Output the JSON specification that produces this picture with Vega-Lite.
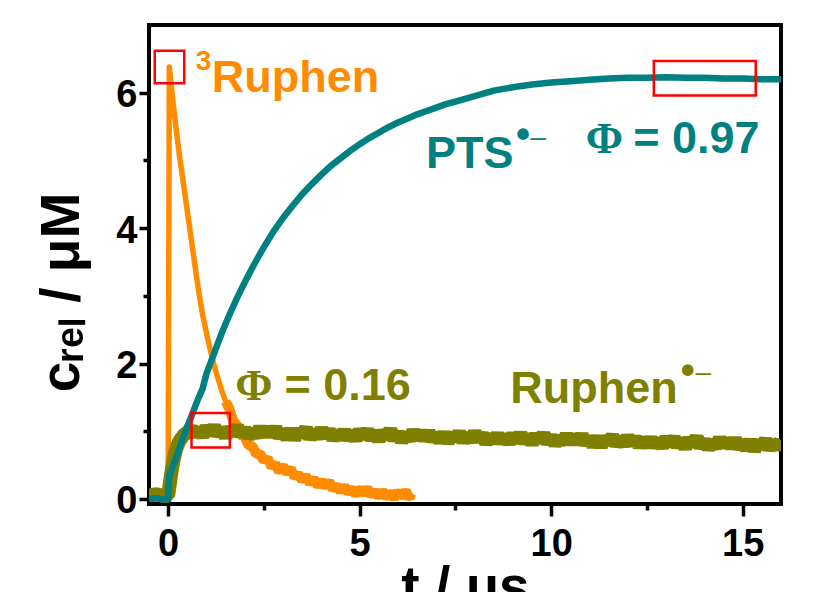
{
  "$schema": "https://vega.github.io/schema/vega-lite/v6.json",
  "width": 632,
  "height": 479,
  "autosize": {"type": "none"},
  "padding": {"left": 149, "top": 25, "right": 39, "bottom": 88},
  "background": "white",
  "config": {
    "view": {"stroke": "black", "strokeWidth": 4},
    "axis": {
      "domain": false, "grid": false, "tickColor": "black", "tickWidth": 3.5,
      "labelFont": "Liberation Sans", "labelFontWeight": "bold", "labelFontSize": 38, "labelColor": "black",
      "titleFont": "Liberation Sans", "titleFontWeight": "bold", "titleFontSize": 55, "titleColor": "black"
    }
  },
  "datasets": {
    "curves": [
      {"series":"3Ruphen","t":-0.5,"c":0.10},{"series":"3Ruphen","t":-0.4,"c":0.12},{"series":"3Ruphen","t":-0.3,"c":0.08},{"series":"3Ruphen","t":-0.2,"c":0.11},{"series":"3Ruphen","t":-0.1,"c":0.09},{"series":"3Ruphen","t":0.0,"c":0.10},
      {"series":"3Ruphen","t":0.03,"c":6.38},{"series":"3Ruphen","t":0.1,"c":6.0},{"series":"3Ruphen","t":0.2,"c":5.5},{"series":"3Ruphen","t":0.3,"c":5.05},{"series":"3Ruphen","t":0.4,"c":4.65},{"series":"3Ruphen","t":0.5,"c":4.25},{"series":"3Ruphen","t":0.6,"c":3.85},{"series":"3Ruphen","t":0.7,"c":3.45},{"series":"3Ruphen","t":0.8,"c":3.05},{"series":"3Ruphen","t":0.9,"c":2.72},{"series":"3Ruphen","t":1.0,"c":2.45},{"series":"3Ruphen","t":1.1,"c":2.2},{"series":"3Ruphen","t":1.2,"c":1.97},{"series":"3Ruphen","t":1.3,"c":1.78},{"series":"3Ruphen","t":1.4,"c":1.6},{"series":"3Ruphen","t":1.5,"c":1.44},
      {"series":"3Ruphen","t":1.6,"c":1.33},{"series":"3Ruphen","t":1.7,"c":1.15},{"series":"3Ruphen","t":1.8,"c":1.09},{"series":"3Ruphen","t":1.9,"c":0.94},{"series":"3Ruphen","t":2.0,"c":0.92},{"series":"3Ruphen","t":2.1,"c":0.79},{"series":"3Ruphen","t":2.2,"c":0.78},{"series":"3Ruphen","t":2.3,"c":0.66},{"series":"3Ruphen","t":2.4,"c":0.67},{"series":"3Ruphen","t":2.5,"c":0.56},{"series":"3Ruphen","t":2.6,"c":0.60},{"series":"3Ruphen","t":2.7,"c":0.47},{"series":"3Ruphen","t":2.8,"c":0.52},{"series":"3Ruphen","t":2.9,"c":0.40},{"series":"3Ruphen","t":3.0,"c":0.49},{"series":"3Ruphen","t":3.1,"c":0.38},{"series":"3Ruphen","t":3.2,"c":0.45},{"series":"3Ruphen","t":3.3,"c":0.32},{"series":"3Ruphen","t":3.4,"c":0.37},{"series":"3Ruphen","t":3.5,"c":0.27},{"series":"3Ruphen","t":3.6,"c":0.34},{"series":"3Ruphen","t":3.7,"c":0.23},{"series":"3Ruphen","t":3.8,"c":0.30},{"series":"3Ruphen","t":3.9,"c":0.19},{"series":"3Ruphen","t":4.0,"c":0.27},{"series":"3Ruphen","t":4.1,"c":0.18},{"series":"3Ruphen","t":4.2,"c":0.26},{"series":"3Ruphen","t":4.3,"c":0.14},{"series":"3Ruphen","t":4.4,"c":0.20},{"series":"3Ruphen","t":4.5,"c":0.11},{"series":"3Ruphen","t":4.6,"c":0.19},{"series":"3Ruphen","t":4.7,"c":0.09},{"series":"3Ruphen","t":4.8,"c":0.16},{"series":"3Ruphen","t":4.9,"c":0.06},{"series":"3Ruphen","t":5.0,"c":0.16},{"series":"3Ruphen","t":5.1,"c":0.07},{"series":"3Ruphen","t":5.2,"c":0.16},{"series":"3Ruphen","t":5.3,"c":0.05},{"series":"3Ruphen","t":5.4,"c":0.12},{"series":"3Ruphen","t":5.5,"c":0.03},{"series":"3Ruphen","t":5.6,"c":0.12},{"series":"3Ruphen","t":5.7,"c":0.02},{"series":"3Ruphen","t":5.8,"c":0.10},{"series":"3Ruphen","t":5.9,"c":0.01},{"series":"3Ruphen","t":6.0,"c":0.11},{"series":"3Ruphen","t":6.1,"c":0.03},{"series":"3Ruphen","t":6.2,"c":0.12},{"series":"3Ruphen","t":6.3,"c":0.01},{"series":"3Ruphen","t":6.35,"c":0.08},

      {"series":"Ruphen","t":-0.5,"c":0.05},{"series":"Ruphen","t":-0.3,"c":0.07},{"series":"Ruphen","t":-0.1,"c":0.04},{"series":"Ruphen","t":0.0,"c":0.05},{"series":"Ruphen","t":0.05,"c":0.25},{"series":"Ruphen","t":0.1,"c":0.45},{"series":"Ruphen","t":0.15,"c":0.6},{"series":"Ruphen","t":0.2,"c":0.72},{"series":"Ruphen","t":0.25,"c":0.8},{"series":"Ruphen","t":0.3,"c":0.86},{"series":"Ruphen","t":0.4,"c":0.94},{"series":"Ruphen","t":0.5,"c":0.98},
      {"series":"Ruphen","t":0.6,"c":1.05},{"series":"Ruphen","t":0.7,"c":0.94},{"series":"Ruphen","t":0.8,"c":1.03},{"series":"Ruphen","t":0.9,"c":0.93},{"series":"Ruphen","t":1.0,"c":1.06},{"series":"Ruphen","t":1.1,"c":0.96},{"series":"Ruphen","t":1.2,"c":1.07},{"series":"Ruphen","t":1.3,"c":0.95},{"series":"Ruphen","t":1.4,"c":1.03},{"series":"Ruphen","t":1.5,"c":0.92},{"series":"Ruphen","t":1.6,"c":1.04},{"series":"Ruphen","t":1.7,"c":0.96},{"series":"Ruphen","t":1.8,"c":1.07},{"series":"Ruphen","t":1.9,"c":0.94},{"series":"Ruphen","t":2.0,"c":1.03},{"series":"Ruphen","t":2.1,"c":0.92},{"series":"Ruphen","t":2.2,"c":1.00},{"series":"Ruphen","t":2.3,"c":0.93},{"series":"Ruphen","t":2.4,"c":1.05},{"series":"Ruphen","t":2.5,"c":0.94},
      {"series":"Ruphen","t":2.6,"c":1.04},{"series":"Ruphen","t":2.7,"c":0.94},{"series":"Ruphen","t":2.8,"c":1.05},{"series":"Ruphen","t":2.9,"c":0.92},{"series":"Ruphen","t":3.0,"c":1.00},{"series":"Ruphen","t":3.1,"c":0.90},{"series":"Ruphen","t":3.2,"c":1.02},{"series":"Ruphen","t":3.3,"c":0.89},{"series":"Ruphen","t":3.4,"c":1.01},{"series":"Ruphen","t":3.5,"c":0.94},{"series":"Ruphen","t":3.6,"c":1.04},{"series":"Ruphen","t":3.7,"c":0.90},{"series":"Ruphen","t":3.8,"c":1.00},{"series":"Ruphen","t":3.9,"c":0.91},{"series":"Ruphen","t":4.0,"c":1.03},{"series":"Ruphen","t":4.1,"c":0.92},{"series":"Ruphen","t":4.2,"c":1.01},{"series":"Ruphen","t":4.3,"c":0.89},{"series":"Ruphen","t":4.4,"c":0.98},{"series":"Ruphen","t":4.5,"c":0.90},
      {"series":"Ruphen","t":4.6,"c":1.00},{"series":"Ruphen","t":4.7,"c":0.89},{"series":"Ruphen","t":4.8,"c":0.98},{"series":"Ruphen","t":4.9,"c":0.88},{"series":"Ruphen","t":5.0,"c":1.01},{"series":"Ruphen","t":5.1,"c":0.91},{"series":"Ruphen","t":5.2,"c":1.01},{"series":"Ruphen","t":5.3,"c":0.89},{"series":"Ruphen","t":5.4,"c":0.98},{"series":"Ruphen","t":5.5,"c":0.87},{"series":"Ruphen","t":5.6,"c":0.99},{"series":"Ruphen","t":5.7,"c":0.91},{"series":"Ruphen","t":5.8,"c":1.02},{"series":"Ruphen","t":5.9,"c":0.88},{"series":"Ruphen","t":6.0,"c":0.97},{"series":"Ruphen","t":6.1,"c":0.86},{"series":"Ruphen","t":6.2,"c":0.95},{"series":"Ruphen","t":6.3,"c":0.88},{"series":"Ruphen","t":6.4,"c":1.00},{"series":"Ruphen","t":6.5,"c":0.89},
      {"series":"Ruphen","t":6.6,"c":0.99},{"series":"Ruphen","t":6.7,"c":0.88},{"series":"Ruphen","t":6.8,"c":0.99},{"series":"Ruphen","t":6.9,"c":0.87},{"series":"Ruphen","t":7.0,"c":0.95},{"series":"Ruphen","t":7.1,"c":0.85},{"series":"Ruphen","t":7.2,"c":0.97},{"series":"Ruphen","t":7.3,"c":0.84},{"series":"Ruphen","t":7.4,"c":0.95},{"series":"Ruphen","t":7.5,"c":0.88},{"series":"Ruphen","t":7.6,"c":0.98},{"series":"Ruphen","t":7.7,"c":0.85},{"series":"Ruphen","t":7.8,"c":0.95},{"series":"Ruphen","t":7.9,"c":0.86},{"series":"Ruphen","t":8.0,"c":0.98},{"series":"Ruphen","t":8.1,"c":0.87},{"series":"Ruphen","t":8.2,"c":0.95},{"series":"Ruphen","t":8.3,"c":0.83},{"series":"Ruphen","t":8.4,"c":0.93},{"series":"Ruphen","t":8.5,"c":0.85},
      {"series":"Ruphen","t":8.6,"c":0.95},{"series":"Ruphen","t":8.7,"c":0.84},{"series":"Ruphen","t":8.8,"c":0.93},{"series":"Ruphen","t":8.9,"c":0.83},{"series":"Ruphen","t":9.0,"c":0.95},{"series":"Ruphen","t":9.1,"c":0.85},{"series":"Ruphen","t":9.2,"c":0.96},{"series":"Ruphen","t":9.3,"c":0.84},{"series":"Ruphen","t":9.4,"c":0.93},{"series":"Ruphen","t":9.5,"c":0.82},{"series":"Ruphen","t":9.6,"c":0.94},{"series":"Ruphen","t":9.7,"c":0.85},{"series":"Ruphen","t":9.8,"c":0.96},{"series":"Ruphen","t":9.9,"c":0.83},{"series":"Ruphen","t":10.0,"c":0.92},{"series":"Ruphen","t":10.1,"c":0.81},{"series":"Ruphen","t":10.2,"c":0.90},{"series":"Ruphen","t":10.3,"c":0.83},{"series":"Ruphen","t":10.4,"c":0.94},{"series":"Ruphen","t":10.5,"c":0.83},
      {"series":"Ruphen","t":10.6,"c":0.93},{"series":"Ruphen","t":10.7,"c":0.83},{"series":"Ruphen","t":10.8,"c":0.94},{"series":"Ruphen","t":10.9,"c":0.82},{"series":"Ruphen","t":11.0,"c":0.90},{"series":"Ruphen","t":11.1,"c":0.79},{"series":"Ruphen","t":11.2,"c":0.91},{"series":"Ruphen","t":11.3,"c":0.78},{"series":"Ruphen","t":11.4,"c":0.90},{"series":"Ruphen","t":11.5,"c":0.83},{"series":"Ruphen","t":11.6,"c":0.93},{"series":"Ruphen","t":11.7,"c":0.80},{"series":"Ruphen","t":11.8,"c":0.89},{"series":"Ruphen","t":11.9,"c":0.80},{"series":"Ruphen","t":12.0,"c":0.92},{"series":"Ruphen","t":12.1,"c":0.81},{"series":"Ruphen","t":12.2,"c":0.90},{"series":"Ruphen","t":12.3,"c":0.78},{"series":"Ruphen","t":12.4,"c":0.88},{"series":"Ruphen","t":12.5,"c":0.79},
      {"series":"Ruphen","t":12.6,"c":0.89},{"series":"Ruphen","t":12.7,"c":0.78},{"series":"Ruphen","t":12.8,"c":0.87},{"series":"Ruphen","t":12.9,"c":0.77},{"series":"Ruphen","t":13.0,"c":0.90},{"series":"Ruphen","t":13.1,"c":0.80},{"series":"Ruphen","t":13.2,"c":0.90},{"series":"Ruphen","t":13.3,"c":0.78},{"series":"Ruphen","t":13.4,"c":0.87},{"series":"Ruphen","t":13.5,"c":0.76},{"series":"Ruphen","t":13.6,"c":0.88},{"series":"Ruphen","t":13.7,"c":0.80},{"series":"Ruphen","t":13.8,"c":0.91},{"series":"Ruphen","t":13.9,"c":0.77},{"series":"Ruphen","t":14.0,"c":0.86},{"series":"Ruphen","t":14.1,"c":0.75},{"series":"Ruphen","t":14.2,"c":0.84},{"series":"Ruphen","t":14.3,"c":0.77},{"series":"Ruphen","t":14.4,"c":0.89},{"series":"Ruphen","t":14.5,"c":0.78},
      {"series":"Ruphen","t":14.6,"c":0.87},{"series":"Ruphen","t":14.7,"c":0.77},{"series":"Ruphen","t":14.8,"c":0.88},{"series":"Ruphen","t":14.9,"c":0.76},{"series":"Ruphen","t":15.0,"c":0.84},{"series":"Ruphen","t":15.1,"c":0.74},{"series":"Ruphen","t":15.2,"c":0.86},{"series":"Ruphen","t":15.3,"c":0.72},{"series":"Ruphen","t":15.4,"c":0.84},{"series":"Ruphen","t":15.5,"c":0.77},{"series":"Ruphen","t":15.6,"c":0.87},{"series":"Ruphen","t":15.7,"c":0.74},{"series":"Ruphen","t":15.8,"c":0.84},{"series":"Ruphen","t":15.9,"c":0.75},{"series":"Ruphen","t":16.0,"c":0.87},

      {"series":"PTS","t":-0.5,"c":0.0},{"series":"PTS","t":-0.3,"c":0.01},{"series":"PTS","t":-0.1,"c":-0.01},{"series":"PTS","t":0.0,"c":0.0},{"series":"PTS","t":0.03,"c":0.35},{"series":"PTS","t":0.1,"c":0.45},{"series":"PTS","t":0.2,"c":0.6},{"series":"PTS","t":0.3,"c":0.76},{"series":"PTS","t":0.4,"c":0.92},{"series":"PTS","t":0.5,"c":1.07},{"series":"PTS","t":0.6,"c":1.21},{"series":"PTS","t":0.7,"c":1.36},{"series":"PTS","t":0.8,"c":1.5},{"series":"PTS","t":0.9,"c":1.63},{"series":"PTS","t":1.0,"c":1.85},{"series":"PTS","t":1.2,"c":2.15},{"series":"PTS","t":1.4,"c":2.45},{"series":"PTS","t":1.6,"c":2.72},{"series":"PTS","t":1.8,"c":2.97},{"series":"PTS","t":2.0,"c":3.2},{"series":"PTS","t":2.25,"c":3.47},{"series":"PTS","t":2.5,"c":3.72},{"series":"PTS","t":2.75,"c":3.95},{"series":"PTS","t":3.0,"c":4.15},{"series":"PTS","t":3.25,"c":4.33},{"series":"PTS","t":3.5,"c":4.5},{"series":"PTS","t":3.75,"c":4.65},{"series":"PTS","t":4.0,"c":4.79},{"series":"PTS","t":4.25,"c":4.92},{"series":"PTS","t":4.5,"c":5.03},{"series":"PTS","t":4.75,"c":5.14},{"series":"PTS","t":5.0,"c":5.24},{"series":"PTS","t":5.25,"c":5.33},{"series":"PTS","t":5.5,"c":5.41},{"series":"PTS","t":5.75,"c":5.49},{"series":"PTS","t":6.0,"c":5.56},{"series":"PTS","t":6.25,"c":5.62},{"series":"PTS","t":6.5,"c":5.68},{"series":"PTS","t":6.75,"c":5.73},{"series":"PTS","t":7.0,"c":5.78},{"series":"PTS","t":7.25,"c":5.83},{"series":"PTS","t":7.5,"c":5.87},{"series":"PTS","t":7.75,"c":5.91},{"series":"PTS","t":8.0,"c":5.95},{"series":"PTS","t":8.5,"c":6.03},{"series":"PTS","t":9.0,"c":6.08},{"series":"PTS","t":9.5,"c":6.12},{"series":"PTS","t":10.0,"c":6.15},{"series":"PTS","t":10.5,"c":6.17},{"series":"PTS","t":11.0,"c":6.19},{"series":"PTS","t":11.5,"c":6.21},{"series":"PTS","t":12.0,"c":6.22},{"series":"PTS","t":12.5,"c":6.22},{"series":"PTS","t":13.0,"c":6.23},{"series":"PTS","t":13.5,"c":6.22},{"series":"PTS","t":14.0,"c":6.22},{"series":"PTS","t":14.5,"c":6.21},{"series":"PTS","t":15.0,"c":6.21},{"series":"PTS","t":15.5,"c":6.2},{"series":"PTS","t":16.0,"c":6.2}
    ],
    "boxes": [
      {"t1": -0.35, "t2": 0.42, "c1": 6.14, "c2": 6.62},
      {"t1": 0.61, "t2": 1.61, "c1": 0.76, "c2": 1.27},
      {"t1": 12.68, "t2": 15.34, "c1": 5.96, "c2": 6.47}
    ],
    "labels": [
      {"t": 1.14, "c": 6.015, "text": "Ruphen", "series": "3Ruphen"},
      {"t": 6.73, "c": 4.883, "text": "PTS", "series": "PTS"},
      {"t": 12.14, "c": 5.105, "text": "= 0.97", "series": "PTS"},
      {"t": 3.035, "c": 1.461, "text": "= 0.16", "series": "Ruphen"},
      {"t": 8.93, "c": 1.412, "text": "Ruphen", "series": "Ruphen"}
    ],
    "phi": [
      {"t": 10.90, "c": 5.105, "text": "Φ", "series": "PTS"},
      {"t": 1.755, "c": 1.461, "text": "Φ", "series": "Ruphen"}
    ],
    "sups": [
      {"t": 0.721, "c": 6.335, "text": "3", "series": "3Ruphen"}
    ],
    "dots": [
      {"t": 9.08, "c": 5.183, "text": "•", "series": "PTS"},
      {"t": 13.38, "c": 1.697, "text": "•", "series": "Ruphen"}
    ],
    "dashes": [
      {"t": 9.46, "c": 5.217, "text": "–", "series": "PTS"},
      {"t": 13.77, "c": 1.746, "text": "–", "series": "Ruphen"}
    ]
  },
  "resolve": {"axis": {"x": "independent", "y": "independent"}},
  "layer": [
    {
      "data": {"name": "curves"},
      "transform": [{"filter": "datum.series === '3Ruphen'"}],
      "mark": {"type": "line", "strokeWidth": 5.5, "clip": true, "strokeJoin": "round"},
      "encoding": {
        "x": {"field": "t", "type": "quantitative", "scale": {"domain": [-0.5, 16], "nice": false, "zero": false},
              "axis": {"orient": "bottom", "values": [0, 5, 10, 15], "tickSize": 12, "labelPadding": 9, "title": "t / μs", "titleY": 100, "titleBaseline": "alphabetic"}},
        "y": {"field": "c", "type": "quantitative", "scale": {"domain": [-0.075, 7], "nice": false, "zero": false},
              "axis": {"orient": "left", "values": [0, 2, 4, 6], "tickSize": 10, "labelPadding": 2, "labelOffset": 3, "title": "cᵣₑₗ / μM", "titleX": -71, "titleY": 267, "titleBaseline": "alphabetic"}},
        "color": {"field": "series", "type": "nominal", "scale": {"domain": ["3Ruphen", "PTS", "Ruphen"], "range": ["#FF8C00", "#008080", "#808000"]}, "legend": null},
        "order": {"field": "t", "type": "quantitative"}
      }
    },
    {
      "data": {"name": "curves"},
      "transform": [{"filter": "datum.series === '3Ruphen' && datum.t >= 1.5"}],
      "mark": {"type": "line", "strokeWidth": 10, "clip": true, "strokeJoin": "bevel"},
      "encoding": {
        "x": {"field": "t", "type": "quantitative", "scale": {"domain": [-0.5, 16], "nice": false, "zero": false}, "axis": null},
        "y": {"field": "c", "type": "quantitative", "scale": {"domain": [-0.075, 7], "nice": false, "zero": false}, "axis": null},
        "color": {"field": "series", "type": "nominal", "legend": null},
        "order": {"field": "t", "type": "quantitative"}
      }
    },
    {
      "data": {"name": "curves"},
      "transform": [{"filter": "datum.series === 'Ruphen'"}],
      "mark": {"type": "line", "strokeWidth": 14, "clip": true, "strokeJoin": "bevel"},
      "encoding": {
        "x": {"field": "t", "type": "quantitative", "scale": {"domain": [-0.5, 16], "nice": false, "zero": false}, "axis": null},
        "y": {"field": "c", "type": "quantitative", "scale": {"domain": [-0.075, 7], "nice": false, "zero": false}, "axis": null},
        "color": {"field": "series", "type": "nominal", "legend": null},
        "order": {"field": "t", "type": "quantitative"}
      }
    },
    {
      "data": {"name": "curves"},
      "transform": [{"filter": "datum.series === 'PTS'"}],
      "mark": {"type": "line", "strokeWidth": 6.5, "clip": true},
      "encoding": {
        "x": {"field": "t", "type": "quantitative", "scale": {"domain": [-0.5, 16], "nice": false, "zero": false}, "axis": null},
        "y": {"field": "c", "type": "quantitative", "scale": {"domain": [-0.075, 7], "nice": false, "zero": false}, "axis": null},
        "color": {"field": "series", "type": "nominal", "legend": null},
        "order": {"field": "t", "type": "quantitative"}
      }
    },
    {
      "data": {"name": "boxes"},
      "mark": {"type": "rect", "fillOpacity": 0, "stroke": "#FF0000", "strokeWidth": 2.5},
      "encoding": {
        "x": {"field": "t1", "type": "quantitative", "scale": {"domain": [-0.5, 16], "nice": false, "zero": false},
              "axis": {"orient": "bottom", "values": [2.5, 7.5, 12.5], "tickSize": 6, "labels": false, "title": null}},
        "x2": {"field": "t2"},
        "y": {"field": "c1", "type": "quantitative", "scale": {"domain": [-0.075, 7], "nice": false, "zero": false},
              "axis": {"orient": "left", "values": [1, 3, 5], "tickSize": 6, "labels": false, "title": null}},
        "y2": {"field": "c2"}
      }
    },
    {
      "data": {"name": "labels"},
      "mark": {"type": "text", "align": "left", "baseline": "alphabetic", "font": "Liberation Sans", "fontWeight": "bold", "fontSize": 45},
      "encoding": {
        "x": {"field": "t", "type": "quantitative", "axis": null},
        "y": {"field": "c", "type": "quantitative", "axis": null},
        "text": {"field": "text"},
        "color": {"field": "series", "type": "nominal", "legend": null}
      }
    },
    {
      "data": {"name": "phi"},
      "mark": {"type": "text", "align": "left", "baseline": "alphabetic", "font": "Liberation Serif", "fontWeight": "bold", "fontSize": 45},
      "encoding": {
        "x": {"field": "t", "type": "quantitative", "axis": null},
        "y": {"field": "c", "type": "quantitative", "axis": null},
        "text": {"field": "text"},
        "color": {"field": "series", "type": "nominal", "legend": null}
      }
    },
    {
      "data": {"name": "sups"},
      "mark": {"type": "text", "align": "left", "baseline": "alphabetic", "font": "Liberation Sans", "fontWeight": "bold", "fontSize": 28},
      "encoding": {
        "x": {"field": "t", "type": "quantitative", "axis": null},
        "y": {"field": "c", "type": "quantitative", "axis": null},
        "text": {"field": "text"},
        "color": {"field": "series", "type": "nominal", "legend": null}
      }
    },
    {
      "data": {"name": "dots"},
      "mark": {"type": "text", "align": "left", "baseline": "alphabetic", "font": "Liberation Sans", "fontWeight": "bold", "fontSize": 40},
      "encoding": {
        "x": {"field": "t", "type": "quantitative", "axis": null},
        "y": {"field": "c", "type": "quantitative", "axis": null},
        "text": {"field": "text"},
        "color": {"field": "series", "type": "nominal", "legend": null}
      }
    },
    {
      "data": {"name": "dashes"},
      "mark": {"type": "text", "align": "left", "baseline": "alphabetic", "font": "Liberation Sans", "fontWeight": "normal", "fontSize": 28},
      "encoding": {
        "x": {"field": "t", "type": "quantitative", "axis": null},
        "y": {"field": "c", "type": "quantitative", "axis": null},
        "text": {"field": "text"},
        "color": {"field": "series", "type": "nominal", "legend": null}
      }
    }
  ]
}
